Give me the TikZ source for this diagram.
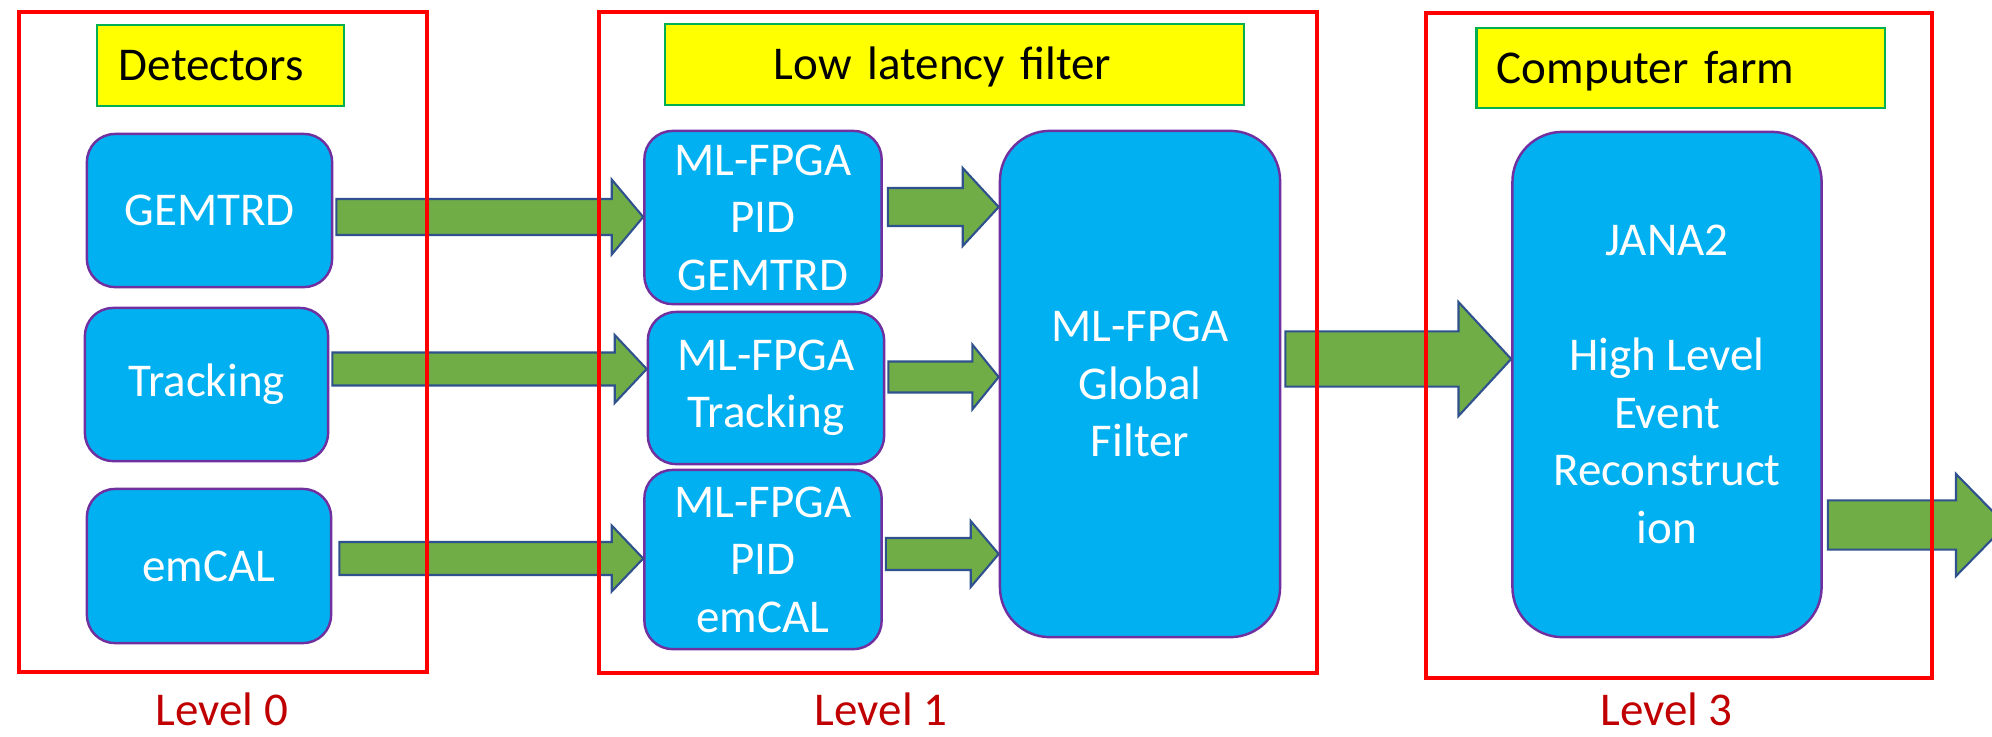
\documentclass[tikz,border=0pt]{standalone}
\usepackage{fontspec}
\setmainfont{Carlito}
\usetikzlibrary{calc}

\definecolor{boxblue}{RGB}{0,176,240}
\definecolor{boxedge}{RGB}{112,48,160}
\definecolor{flowgreen}{RGB}{112,173,71}
\definecolor{flowedge}{RGB}{47,82,143}
\definecolor{tagyellow}{RGB}{255,255,0}
\definecolor{tagedge}{RGB}{0,176,80}
\definecolor{levelred}{RGB}{192,0,0}
\definecolor{framered}{RGB}{255,0,0}

\newcommand{\lblfont}{\fontsize{13.37pt}{16.36pt}\selectfont}

\tikzset{
  stage/.style={draw=boxedge, line width=0.7pt, fill=boxblue, text=white,
    rounded corners=0.28cm, align=center, font=\lblfont, inner sep=0pt},
  bigstage/.style={stage, rounded corners=0.5cm},
  frame/.style={draw=framered, line width=1.3pt, inner sep=0pt},
  tag/.style={draw=tagedge, line width=0.6pt, fill=tagyellow, align=left,
    font=\lblfont, text height=8.6pt, text depth=0pt, inner ysep=0pt},
  levellbl/.style={text=levelred, font=\lblfont, inner sep=0pt, anchor=base},
  flow/.style={draw=flowedge, line width=0.6pt, fill=flowgreen, line join=miter},
  % block arrow: {shaft half width}{head half width}{head length}, lengths in px
  blockarrow/.style n args={3}{to path={
    let \p1=(\tikztostart), \p2=(\tikztotarget) in
      (\x1,{\y1+#1*0.01cm}) -- ({\x2-#3*0.01cm},{\y1+#1*0.01cm})
      -- ({\x2-#3*0.01cm},{\y1+#2*0.01cm}) -- (\x2,\y1)
      -- ({\x2-#3*0.01cm},{\y1-#2*0.01cm}) -- ({\x2-#3*0.01cm},{\y1-#1*0.01cm})
      -- (\x1,{\y1-#1*0.01cm}) -- cycle}},
}

\begin{document}
\begin{tikzpicture}[x=0.01cm, y=-0.01cm]
\clip (0,0) rectangle (1992,736);
\fill[white] (0,0) rectangle (1992,736);

% Level 0: detectors
\node[stage, minimum width=2.45cm, minimum height=1.53cm] (gem) at (209.5,210.5) {GEMTRD};
\node[stage, minimum width=2.43cm, minimum height=1.53cm] (trk) at (206.5,384.5) {Tracking};
\node[stage, minimum width=2.44cm, minimum height=1.54cm] (emc) at (209,566) {emCAL};

% Level 1: low latency filter
\node[stage, minimum width=2.37cm, minimum height=1.73cm] (pidg) at (763,217.5) {ML-FPGA\\PID\\GEMTRD};
\node[stage, minimum width=2.36cm, minimum height=1.52cm] (mltrk) at (766,388) {ML-FPGA\\Tracking};
\node[stage, minimum width=2.37cm, minimum height=1.79cm] (pide) at (763,559.5) {ML-FPGA\\PID\\emCAL};
\node[bigstage, minimum width=2.80cm, minimum height=5.06cm] (glob) at (1140,384) {ML-FPGA\\Global\\Filter};

% Level 3: computer farm
\node[bigstage, minimum width=3.09cm, minimum height=5.05cm] (jana) at (1667,384.5)
  {JANA2\\[16.36pt]High Level\\Event\\Reconstruct\\ion};
\coordinate (out) at (2006,525);

% data flow
\draw[flow] ($(gem.east)+(3,6.5)$) to[blockarrow={18}{37.5}{31.5}] (pidg.west);
\draw[flow] ($(trk.east)+(3,-15.5)$) to[blockarrow={16.5}{34}{32}] (mltrk.west);
\draw[flow] ($(emc.east)+(7,-7.5)$) to[blockarrow={16.5}{33}{31.5}] (pide.west);
\draw[flow] ($(pidg.east)+(5,-10.5)$) to[blockarrow={19}{39}{36}] (glob.west);
\draw[flow] ($(mltrk.east)+(3,-11)$) to[blockarrow={15.5}{32.5}{26.4}] (glob.west);
\draw[flow] ($(pide.east)+(3,-5.5)$) to[blockarrow={16}{33}{28}] (glob.west);
\draw[flow] ($(glob.east)+(4,-25)$) to[blockarrow={27.6}{57}{52.7}] (jana.west);
\draw[flow] ($(jana.east)+(5,140.5)$) to[blockarrow={24.6}{51}{50}] (out);

% level frames
\node[frame, minimum width=4.08cm, minimum height=6.60cm] (fr0) at (223,342) {};
\node[frame, minimum width=7.174cm, minimum height=6.604cm] (fr1) at (958.1,342.5) {};
\node[frame, minimum width=5.057cm, minimum height=6.645cm] (fr3) at (1678.85,345.55) {};

% titles
\node[tag, text width=2.03cm, inner xsep=0.22cm, minimum height=0.81cm] (tdet) at (220.5,65.5) {Detectors};
\node[tag, text width=3.608cm, inner xsep=1.092cm, minimum height=0.807cm] (tllf) at (954.4,64.65) {Low latency filter};
\node[tag, text width=3.676cm, inner xsep=0.204cm, minimum height=0.80cm] (tcf) at (1680.8,68) {Computer farm};

% level captions
\node[levellbl] (lv0) at (222,725) {Level 0};
\node[levellbl] (lv1) at (881,725) {Level 1};
\node[levellbl] (lv3) at (1666.5,725) {Level 3};
\end{tikzpicture}
\end{document}
